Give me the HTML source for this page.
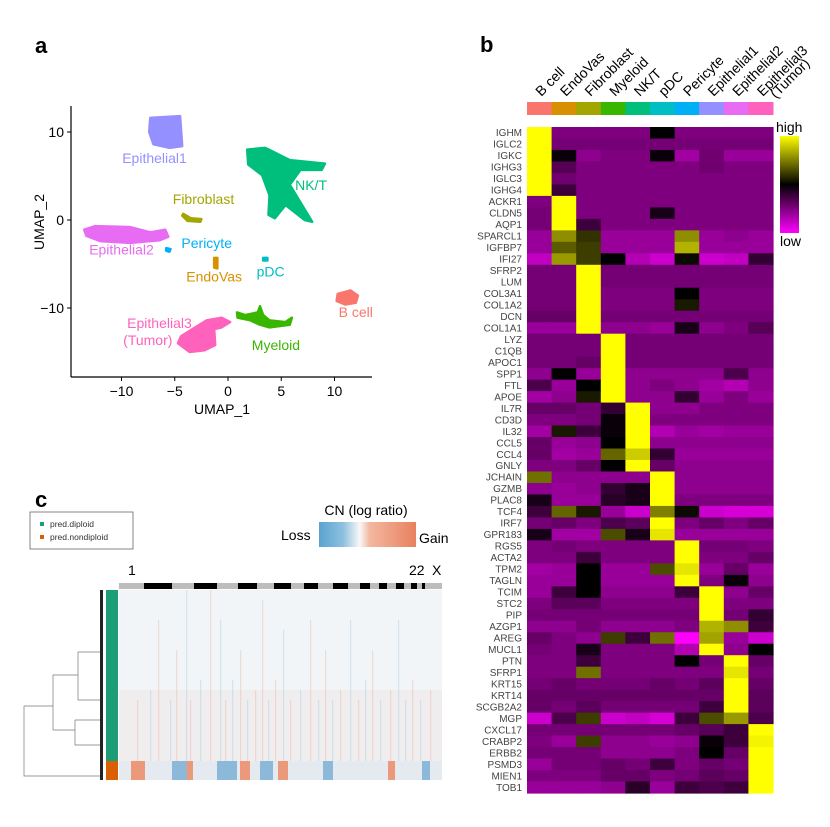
<!DOCTYPE html>
<html><head><meta charset="utf-8"><style>
body{margin:0;background:#fff;}
svg{display:block;font-family:"Liberation Sans",sans-serif;}
</style></head><body>
<svg id="fig" width="830" height="827" viewBox="0 0 830 827" xmlns="http://www.w3.org/2000/svg">
<rect width="830" height="827" fill="#fff"/>
<text x="35" y="53" font-size="22" font-weight="bold">a</text>
<text x="480" y="52" font-size="22" font-weight="bold">b</text>
<text x="35" y="507" font-size="22" font-weight="bold">c</text>
<g id="umap"></g>
<g id="heat"></g>
<g id="cnv"></g>
</svg>
<script>
const NS="http://www.w3.org/2000/svg";
function mk(parent,tag,attrs,text){const e=document.createElementNS(NS,tag);for(const k in attrs)e.setAttribute(k,attrs[k]);if(text!==undefined)e.textContent=text;parent.appendChild(e);return e;}

// ===== Panel a: UMAP =====
const xTicks=[-10,-5,0,5,10];
const yTicks=[10,0,-10];
const clusterNames=["Epithelial1","NK/T","Epithelial2","Fibroblast","Pericyte","EndoVas","pDC","B cell","Epithelial3","Myeloid"];
const clusterColors=["#9590FF","#00BF7D","#E76BF3","#A3A500","#00B0F6","#D89000","#00BFC4","#F8766D","#FF62BC","#39B600"];
const epi1Shape=[[-7.3,11.6],[-4.5,11.8],[-4.3,8.4],[-5.5,8.2],[-7.0,8.6],[-7.4,10]];
const nktShape=[[1.8,8.0],[3.5,8.2],[5.8,6.8],[9.1,6.4],[8.8,5.7],[6.8,5.7],[5.8,4.0],[7.9,-0.2],[7.2,0],[5.4,1.7],[4.4,0.2],[3.8,0.6],[3.9,2.8],[3.2,5.1],[1.9,6.3]];
const epi2Shape=[[-13.5,-1.1],[-12.5,-0.7],[-9.2,-0.8],[-7.3,-1.4],[-5.9,-1.1],[-5.6,-1.9],[-6.4,-2.3],[-9.2,-2.6],[-12.0,-2.4],[-13.3,-1.8]];
const fibShape=[[-4.2,0.7],[-3.5,0.2],[-2.5,0.1],[-2.6,-0.2],[-3.8,-0.1],[-4.3,0.5]];
const periShape=[[-5.8,-3.2],[-5.4,-3.3],[-5.5,-3.6],[-5.8,-3.5]];
const endoShape=[[-1.3,-4.3],[-1.0,-4.3],[-1.0,-5.5],[-1.3,-5.4]];
const pdcShape=[[3.3,-4.3],[3.7,-4.3],[3.7,-4.6],[3.3,-4.6]];
const bShape=[[10.3,-8.4],[11.5,-8.0],[12.2,-8.6],[12.0,-9.4],[11.0,-9.6],[10.2,-9.2]];
const epi3Shape=[[-3.2,-12.3],[-2.0,-11.4],[-0.6,-11.1],[0.2,-11.6],[-0.6,-12.2],[-1.3,-12.4],[-1.2,-14.2],[-2.2,-14.8],[-3.6,-15.0],[-4.7,-14.0],[-4.4,-13.2]];
const myeShape=[[0.85,-10.5],[1.6,-10.8],[2.8,-10.5],[3.0,-9.8],[3.3,-10.8],[3.9,-11.4],[5.4,-11.6],[6.0,-11.1],[5.8,-11.9],[3.9,-12.2],[3.0,-11.9],[2.1,-11.4],[0.9,-11.1]];
const clusterShapes=[epi1Shape,nktShape,epi2Shape,fibShape,periShape,endoShape,pdcShape,bShape,epi3Shape,myeShape];
const labelPos=[[-6.9,6.5,"middle"],[7.8,3.4,"middle"],[-10.0,-3.9,"middle"],[-2.3,1.8,"middle"],[-2.0,-3.2,"middle"],[-1.3,-7.0,"middle"],[4.0,-6.4,"middle"],[12.0,-11.0,"middle"],[-3.4,-12.3,"end"],[4.5,-14.8,"middle"]];

const ua=document.getElementById('umap');
const ux=u=>228+10.65*u, uy=v=>220-8.8*v;
mk(ua,'line',{x1:71,y1:106,x2:71,y2:377,stroke:'#000','stroke-width':1.2});
mk(ua,'line',{x1:71,y1:377,x2:372,y2:377,stroke:'#000','stroke-width':1.2});
xTicks.forEach(t=>{
  mk(ua,'line',{x1:ux(t),y1:377,x2:ux(t),y2:381,stroke:'#000'});
  const tl=mk(ua,'text',{x:ux(t),y:396,'font-size':14,'text-anchor':'middle'},t<0?'\u2212'+(-t):String(t));
  
  
});
yTicks.forEach(t=>{
  mk(ua,'line',{x1:67,y1:uy(t),x2:71,y2:uy(t),stroke:'#000'});
  const tl=mk(ua,'text',{x:64,y:uy(t)+5,'font-size':14,'text-anchor':'end'},t<0?'\u2212'+(-t):String(t));
  
  
});
const xt=mk(ua,'text',{x:222,y:414,'font-size':14,'text-anchor':'middle'},'UMAP_1');


const yt=mk(ua,'text',{x:0,y:0,'font-size':14,'text-anchor':'middle',transform:'translate(44,222) rotate(-90)'},'UMAP_2');


clusterShapes.forEach((s,i)=>{
  const p=mk(ua,'polygon',{points:s.map(q=>ux(q[0])+','+uy(q[1])).join(' '),fill:clusterColors[i],stroke:clusterColors[i],'stroke-width':2.5,'stroke-linejoin':'round'});
  
  
});
clusterNames.forEach((n,i)=>{
  const lp=labelPos[i];
  const t=mk(ua,'text',{x:ux(lp[0]),y:uy(lp[1]),'font-size':14,'text-anchor':lp[2],fill:clusterColors[i]},n);
  
  
  if(n==="Epithelial3"){mk(ua,'text',{x:ux(lp[0])-44,y:uy(lp[1])+17,'font-size':14,'text-anchor':'middle',fill:clusterColors[i]},'(Tumor)');}
});

// ===== Panel b: heatmap =====
const cellTypes=["B cell","EndoVas","Fibroblast","Myeloid","NK/T","pDC","Pericyte","Epithelial1","Epithelial2","Epithelial3"];
const cellColors=["#F8766D","#D89000","#A3A500","#39B600","#00BF7D","#00BFC4","#00B0F6","#9590FF","#E76BF3","#FF62BC"];
const genes=["IGHM","IGLC2","IGKC","IGHG3","IGLC3","IGHG4","ACKR1","CLDN5","AQP1","SPARCL1","IGFBP7","IFI27","SFRP2","LUM","COL3A1","COL1A2","DCN","COL1A1","LYZ","C1QB","APOC1","SPP1","FTL","APOE","IL7R","CD3D","IL32","CCL5","CCL4","GNLY","JCHAIN","GZMB","PLAC8","TCF4","IRF7","GPR183","RGS5","ACTA2","TPM2","TAGLN","TCIM","STC2","PIP","AZGP1","AREG","MUCL1","PTN","SFRP1","KRT15","KRT14","SCGB2A2","MGP","CXCL17","CRABP2","ERBB2","PSMD3","MIEN1","TOB1"];
const expr=[
[1,.25,.25,.25,.25,.5,.25,.25,.25,.25],
[1,.27,.27,.27,.27,.27,.27,.27,.27,.27],
[1,.48,.22,.25,.25,.48,.18,.28,.2,.2],
[1,.33,.25,.25,.25,.25,.25,.28,.25,.25],
[1,.28,.25,.25,.25,.25,.25,.25,.25,.25],
[1,.38,.25,.25,.25,.25,.25,.25,.25,.25],
[.25,1,.25,.25,.25,.25,.25,.25,.25,.25],
[.27,1,.25,.25,.25,.45,.25,.25,.25,.25],
[.27,1,.38,.25,.25,.25,.25,.25,.25,.25],
[.2,.78,.6,.2,.2,.2,.78,.2,.22,.2],
[.2,.68,.62,.2,.2,.2,.85,.2,.2,.2],
[.12,.8,.62,.5,.15,.1,.52,.1,.12,.4],
[.27,.27,1,.27,.27,.27,.27,.27,.27,.27],
[.27,.27,1,.27,.27,.27,.27,.27,.27,.27],
[.27,.27,1,.25,.25,.25,.5,.25,.25,.25],
[.27,.27,1,.25,.25,.25,.55,.25,.25,.25],
[.3,.3,1,.27,.27,.27,.27,.27,.27,.27],
[.2,.2,1,.22,.22,.2,.45,.22,.25,.33],
[.27,.27,.27,1,.27,.27,.27,.27,.27,.27],
[.27,.27,.27,1,.27,.27,.27,.27,.27,.27],
[.27,.27,.3,1,.27,.27,.27,.27,.27,.27],
[.22,.5,.2,1,.22,.22,.22,.22,.35,.22],
[.35,.2,.5,1,.22,.25,.22,.18,.15,.22],
[.18,.22,.55,1,.22,.22,.4,.2,.25,.2],
[.3,.3,.27,.4,1,.22,.22,.25,.25,.25],
[.25,.25,.27,.48,1,.25,.25,.25,.25,.25],
[.18,.55,.38,.48,1,.15,.2,.18,.2,.2],
[.3,.2,.22,.5,1,.22,.22,.22,.22,.22],
[.3,.18,.2,.7,.9,.4,.2,.2,.2,.2],
[.25,.25,.3,.5,1,.3,.22,.22,.22,.22],
[.72,.22,.22,.22,.22,1,.22,.22,.22,.22],
[.22,.2,.22,.4,.45,1,.22,.22,.22,.22],
[.45,.2,.2,.42,.45,1,.25,.25,.25,.25],
[.38,.7,.55,.2,.1,.75,.52,.1,.08,.08],
[.27,.3,.25,.35,.32,1,.25,.3,.25,.3],
[.45,.18,.18,.65,.45,.95,.2,.2,.2,.2],
[.25,.27,.25,.25,.25,.25,1,.27,.27,.25],
[.25,.25,.38,.25,.25,.25,1,.25,.25,.3],
[.18,.2,.5,.2,.2,.65,.95,.2,.3,.2],
[.2,.2,.5,.2,.2,.2,1,.25,.48,.22],
[.2,.38,.5,.22,.22,.22,.38,1,.22,.3],
[.25,.32,.32,.25,.25,.25,.25,1,.25,.25],
[.27,.27,.27,.27,.27,.27,.27,1,.27,.4],
[.22,.22,.27,.22,.22,.22,.25,.85,.78,.38],
[.3,.25,.22,.62,.38,.72,0,.82,.2,.1],
[.27,.25,.45,.25,.25,.25,.15,1,.22,.5],
[.25,.25,.38,.25,.25,.25,.5,.27,1,.3],
[.25,.25,.72,.25,.25,.25,.25,.25,.95,.27],
[.27,.3,.27,.27,.27,.3,.27,.32,1,.3],
[.3,.3,.3,.3,.3,.3,.3,.3,1,.32],
[.3,.27,.32,.27,.27,.27,.27,.38,1,.32],
[.1,.35,.62,.1,.12,.08,.38,.65,.8,.35],
[.27,.27,.27,.27,.27,.27,.3,.33,.38,1],
[.25,.2,.62,.22,.22,.2,.22,.48,.38,.98],
[.27,.27,.27,.22,.22,.22,.25,.5,.3,1],
[.2,.27,.27,.3,.27,.38,.25,.3,.27,1],
[.25,.25,.25,.3,.3,.25,.27,.32,.3,1],
[.2,.2,.2,.22,.42,.2,.38,.35,.38,1]];
const hb=document.getElementById('heat');
const HX0=527,HX1=773,HY0=127,HY1=793;
const cw=(HX1-HX0)/cellTypes.length, rh=(HY1-HY0)/genes.length;
function col(v){let r,g,b;if(v<0.5){const k=1-2*v;r=255*k;g=0;b=255*k;}else{const k=2*v-1;r=255*k;g=255*k;b=0;}return `rgb(${r|0},${g|0},${b|0})`;}
cellTypes.forEach((c,j)=>{
  const r=mk(hb,'rect',{x:HX0+j*cw,y:102,width:cw+0.5,height:13,fill:cellColors[j]});
  
  
  const cx=HX0+j*cw+cw/2+2;
  const t=mk(hb,'text',{x:0,y:0,'font-size':14,transform:`translate(${cx},97) rotate(-45)`},c);
  
  
  if(c==="Epithelial3"){mk(hb,'text',{x:0,y:0,'font-size':14,transform:`translate(${cx+13},99) rotate(-45)`},'(Tumor)');}
});
expr.forEach((row,i)=>{
  row.forEach((v,j)=>{
    const r=mk(hb,'rect',{x:HX0+j*cw,y:HY0+i*rh,width:cw+0.6,height:rh+0.6,fill:col(v)});
    
    
  });
  const t=mk(hb,'text',{x:522,y:HY0+i*rh+rh/2+3.5,'font-size':10,'text-anchor':'end',fill:'#444'},genes[i]);
  
  
});
const defs=mk(document.getElementById('fig'),'defs',{});
const lg=mk(defs,'linearGradient',{id:'hg',x1:0,y1:0,x2:0,y2:1});
mk(lg,'stop',{offset:'0','stop-color':'#ffff00'});mk(lg,'stop',{offset:'0.5','stop-color':'#000'});mk(lg,'stop',{offset:'1','stop-color':'#ff00ff'});
const cb=mk(hb,'rect',{x:780,y:136,width:19,height:97,fill:'url(#hg)'});


mk(hb,'text',{x:776,y:132,'font-size':14},'high');
mk(hb,'text',{x:780,y:246,'font-size':14},'low');

// ===== Panel c: CNV =====
const cv=document.getElementById('cnv');
const lgb=mk(cv,'rect',{x:30,y:512,width:103,height:37,fill:'#fff',stroke:'#666','stroke-width':0.8});


mk(cv,'rect',{x:40,y:522,width:4,height:4,fill:'#1b9e77'});
mk(cv,'text',{x:50,y:527,'font-size':8.5,fill:'#333'},'pred.diploid');
mk(cv,'rect',{x:40,y:535,width:4,height:4,fill:'#d95f02'});
mk(cv,'text',{x:50,y:540,'font-size':8.5,fill:'#333'},'pred.nondiploid');
const g2=mk(defs,'linearGradient',{id:'cg',x1:0,y1:0,x2:1,y2:0});
mk(g2,'stop',{offset:'0','stop-color':'#5aa3d0'});mk(g2,'stop',{offset:'0.25','stop-color':'#8ec0df'});mk(g2,'stop',{offset:'0.42','stop-color':'#f8f8f8'});mk(g2,'stop',{offset:'0.52','stop-color':'#f3b8a0'});mk(g2,'stop',{offset:'1','stop-color':'#e8815e'});
mk(cv,'text',{x:366,y:515,'font-size':14,'text-anchor':'middle'},'CN (log ratio)');
const cnb=mk(cv,'rect',{x:319,y:522,width:97,height:25,fill:'url(#cg)'});


mk(cv,'text',{x:281,y:540,'font-size':14},'Loss');
mk(cv,'text',{x:419,y:543,'font-size':14},'Gain');
mk(cv,'text',{x:128,y:575,'font-size':14},'1');
mk(cv,'text',{x:409,y:575,'font-size':14},'22');
mk(cv,'text',{x:432,y:575,'font-size':14},'X');
const CX0=119,CX1=442,CY0=590,CY1=780;
mk(cv,'rect',{x:CX0,y:583,width:CX1-CX0,height:6,fill:'#bdbdbd'});
const chromBlack=[[144,172],[194,217],[238,257],[274,291],[304,318],[333,348],[360,370],[379,387],[396,404],[411,417],[422,425]];
chromBlack.forEach(b=>{const r=mk(cv,'rect',{x:b[0],y:583,width:b[1]-b[0],height:6,fill:'#000'});});
const hm=mk(cv,'rect',{x:CX0,y:CY0,width:CX1-CX0,height:CY1-CY0,fill:'#f1f5f8'});


const streakX=[137,150,158,170,176,186,190,200,210,220,225,232,240,247,255,262,268,275,283,290,300,310,318,325,332,340,350,358,365,372,380,390,398,405,412,420,430];
const streakY0=[700,690,620,700,650,590,700,680,590,620,700,680,650,700,690,600,700,680,630,700,690,620,700,650,700,690,620,700,680,650,700,690,620,700,680,700,690];
const streakType=[1,-1,1,-1,1,-1,1,-1,1,-1,1,-1,1,-1,1,1,-1,1,-1,1,-1,1,-1,1,-1,1,-1,1,-1,1,-1,1,-1,-1,1,-1,1];
mk(cv,'rect',{x:CX0,y:690,width:CX1-CX0,height:71,fill:'#ecdcd8',opacity:0.3});
streakX.forEach((x,i)=>{
  mk(cv,'rect',{x:x,y:streakY0[i],width:1.2,height:761-streakY0[i],fill:streakType[i]>0?'#f0a080':'#8dbddc',opacity:0.3});
});
mk(cv,'rect',{x:CX0,y:761,width:CX1-CX0,height:19,fill:'#e4eaf0'});
const ndGain=[[131,145],[187,193],[240,250],[278,288],[388,395]];
const ndLoss=[[172,187],[217,237],[260,273],[323,333],[422,430]];
ndGain.forEach(b=>mk(cv,'rect',{x:b[0],y:761,width:b[1]-b[0],height:19,fill:'#ec8a66',opacity:0.85}));
ndLoss.forEach(b=>mk(cv,'rect',{x:b[0],y:761,width:b[1]-b[0],height:19,fill:'#6fa8d2',opacity:0.75}));
mk(cv,'rect',{x:106,y:590,width:12,height:171,fill:'#1b9e77'});
mk(cv,'rect',{x:106,y:761,width:12,height:19,fill:'#d95f02'});
const dg=mk(cv,'g',{stroke:'#777',fill:'none','stroke-width':0.7});


mk(dg,'path',{d:'M24,706 V776 H102 M24,706 H53 M53,675 V730 M53,675 H78 M53,730 H75 M78,652 V700 M78,652 H102 M78,700 H102 M75,720 V745 H102 M75,720 H102'});
mk(cv,'rect',{x:100,y:590,width:3,height:190,fill:'#222'});
</script>
</body></html>
